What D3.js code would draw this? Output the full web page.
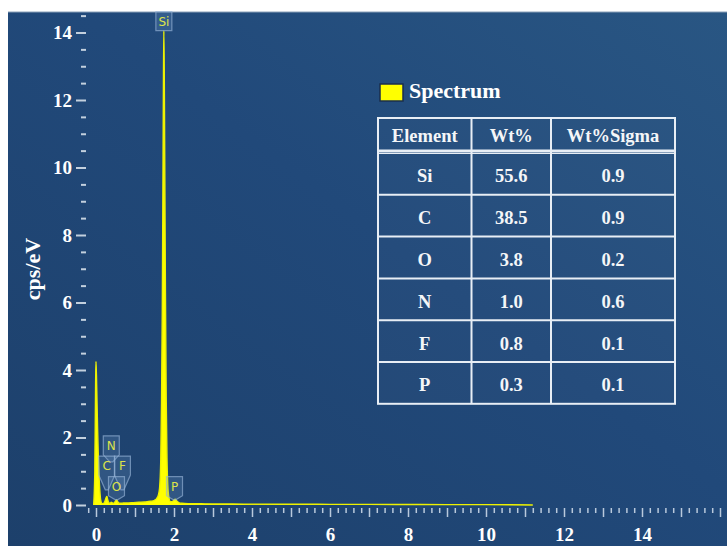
<!DOCTYPE html>
<html><head><meta charset="utf-8">
<script src="https://cdn.jsdelivr.net/npm/d3@7"></script>
<style>html,body{margin:0;padding:0;background:#fff;overflow:hidden}</style>
</head><body><svg id="c" width="727" height="546"></svg>
<script>
// ---- data ----
const energyKeV = [-0.06,-0.03,-0.01,0.00,0.02,0.04,0.06,0.08,0.10,0.12,0.15,0.19,0.23,0.26,0.28,0.30,0.33,0.36,0.39,0.42,0.46,0.50,0.53,0.56,0.60,0.65,0.70,0.80,0.95,1.10,1.25,1.40,1.50,1.56,1.60,1.63,1.66,1.68,1.70,1.72,1.73,1.74,1.75,1.76,1.78,1.80,1.82,1.84,1.87,1.91,1.96,2.00,2.03,2.07,2.12,2.20,2.40,2.70,3.00,3.50,4.00,5.00,6.00,7.00,8.00,9.00,10.00,10.60,11.20];
const cpsPerEV = [0,1.0,3.6,4.25,3.4,2.3,1.4,0.8,0.4,0.15,0.05,0.04,0.12,0.22,0.25,0.16,0.07,0.05,0.08,0.06,0.05,0.12,0.15,0.09,0.05,0.05,0.06,0.06,0.07,0.08,0.09,0.11,0.14,0.2,0.3,0.5,1.3,3.0,5.8,10.4,12.7,14.05,12.9,10.8,6.4,3.2,1.4,0.6,0.22,0.1,0.1,0.15,0.17,0.12,0.07,0.05,0.04,0.035,0.03,0.03,0.025,0.022,0.02,0.018,0.015,0.012,0.01,0.006,0];

const tagElements = ["Si","N","C","F","O","P"];
const tagEnergies = [1.740, 0.392, 0.277, 0.677, 0.525, 2.013];
const tagTops     = [14.62, 2.05, 1.45, 1.45, 0.84, 0.84];
const tagTips     = [14.05, 1.28, 0.45, 0.45, 0.16, 0.16];

const xTickLabels = [0,2,4,6,8,10,12,14];
const yTickLabels = [0,2,4,6,8,10,12,14];

const legendLabel = "Spectrum";
const tableHeaders = ["Element","Wt%","Wt%Sigma"];
const tableElements = ["Si","C","O","N","F","P"];
const tableWt = ["55.6","38.5","3.8","1.0","0.8","0.3"];
const tableSigma = ["0.9","0.9","0.2","0.6","0.1","0.1"];
const yAxisTitle = "cps/eV";

// ---- drawing ----
const svg = d3.select("#c");
const serif = "'Liberation Serif','Times New Roman',serif";

const defs = svg.append("defs");
const grad = defs.append("linearGradient").attr("id","bg").attr("x1","0").attr("y1","1").attr("x2","1").attr("y2","0");
grad.append("stop").attr("offset","0").attr("stop-color","#1d406b");
grad.append("stop").attr("offset","0.55").attr("stop-color","#21497a");
grad.append("stop").attr("offset","1").attr("stop-color","#295683");

svg.append("rect").attr("width",727).attr("height",546).attr("fill","#ffffff");
svg.append("rect").attr("x",8).attr("y",12).attr("width",719).attr("height",534).attr("fill","url(#bg)");
svg.append("line").attr("x1",8).attr("x2",727).attr("y1",12).attr("y2",12).attr("stroke","#8aa0b8").attr("stroke-width",1);

const x = d3.scaleLinear().domain([0,16]).range([96,720]);
const y = d3.scaleLinear().domain([0,14]).range([505,32.5]);

// y axis
const yMajor = d3.axisLeft(y).tickValues(yTickLabels).tickSize(10).tickPadding(4).tickFormat(d3.format("d"));
const yMinorVals = d3.range(0,30).map(i=>i*0.5).filter(v=>v%2!==0);
const yMinor = d3.axisLeft(y).tickValues(yMinorVals).tickSize(5).tickFormat("");
const gy1 = svg.append("g").attr("transform","translate(86,0)").call(yMajor);
const gy2 = svg.append("g").attr("transform","translate(86,0)").call(yMinor);
[gy1,gy2].forEach(g=>{
  g.select(".domain").remove();
  g.selectAll(".tick line").attr("stroke","#c3d0de").attr("stroke-width",2);
});
gy1.selectAll(".tick text").attr("fill","#ffffff").style("font-family",serif).style("font-weight","bold").style("font-size","19px");

// x axis
const xAllVals = d3.range(-1,81).map(i=>i/5);
const xMinorVals = xAllVals.filter(v=>Math.abs(v-Math.round(v))>1e-6);
const xMajorVals = xAllVals.filter(v=>Math.abs(v-Math.round(v))<1e-6);
const xMinor = d3.axisBottom(x).tickValues(xMinorVals).tickSize(5).tickFormat("");
const xMajor = d3.axisBottom(x).tickValues(xMajorVals).tickSize(9).tickPadding(11)
  .tickFormat(d=> xTickLabels.includes(Math.round(d)) ? String(Math.round(d)) : "");
const gx1 = svg.append("g").attr("transform","translate(0,508)").call(xMinor);
const gx2 = svg.append("g").attr("transform","translate(0,508)").call(xMajor);
[gx1,gx2].forEach(g=>{
  g.select(".domain").remove();
  g.selectAll(".tick line").attr("stroke","#b9c9dc").attr("stroke-width",1.5);
});
gx2.selectAll(".tick text").attr("fill","#ffffff").style("font-family",serif).style("font-weight","bold").style("font-size","19px");

// y title
svg.append("text").attr("transform","translate(40,269) rotate(-90)").attr("text-anchor","middle")
  .attr("fill","#ffffff").style("font-family",serif).style("font-weight","bold").style("font-size","22px").text(yAxisTitle);

// spectrum
const pts = energyKeV.map((e,i)=>[e,cpsPerEV[i]]);
const area = d3.area().x(d=>x(d[0])).y0(y(0)).y1(d=>y(d[1])).curve(d3.curveMonotoneX);
const line = d3.line().x(d=>x(d[0])).y(d=>y(d[1])).curve(d3.curveMonotoneX);
svg.append("path").datum(pts).attr("d",area).attr("fill","#ffff00");
svg.append("path").datum(pts).attr("d",line).attr("fill","none").attr("stroke","#eef200").attr("stroke-width",1.4);

// tags
const tagW = 16, tagH = 19;
tagElements.forEach((el,i)=>{
  const cx = x(tagEnergies[i]);
  const T = y(tagTops[i]);
  const B = T + tagH;
  const tip = y(tagTips[i]);
  const L = cx - tagW/2, R = cx + tagW/2;
  let p = `M${L},${T}H${R}V${B}`;
  if (tip > B + 1) p += `L${cx+1.5},${tip}L${cx-1.5},${tip}L${L},${B}Z`;
  else p += `H${L}Z`;
  svg.append("path").attr("d",p).attr("fill","rgba(120,160,205,0.22)").attr("stroke","rgba(150,180,215,0.65)").attr("stroke-width",1.2);
  svg.append("text").attr("x",cx).attr("y",T+tagH/2+4.5).attr("text-anchor","middle")
    .attr("fill","#dde34a").style("font-family","'DejaVu Sans',sans-serif").style("font-size","12px").text(el);
});

// legend
svg.append("rect").attr("x",380).attr("y",84).attr("width",23).attr("height",17).attr("fill","#ffff00").attr("stroke","#1a2e4e").attr("stroke-width",1.5);
svg.append("text").attr("x",409).attr("y",98).attr("fill","#ffffff").style("font-family",serif).style("font-weight","bold").style("font-size","22px").text(legendLabel);

// table
const colX = [378, 471.5, 551, 675];
const headTop = 118, headBot = 151;
const rowH = 41.8;
const rowsTop = 153;
const tblBot = rowsTop + rowH*tableElements.length;
const tcol = "#e8eef5";
const tg = svg.append("g");
tg.append("rect").attr("x",colX[0]).attr("y",headTop).attr("width",colX[3]-colX[0]).attr("height",tblBot-headTop)
  .attr("fill","rgba(255,255,255,0.02)").attr("stroke",tcol).attr("stroke-width",2);
colX.slice(1,3).forEach(cx=>tg.append("line").attr("x1",cx).attr("x2",cx).attr("y1",headTop).attr("y2",tblBot).attr("stroke",tcol).attr("stroke-width",2));
tg.append("rect").attr("x",colX[0]).attr("y",headBot-1.5).attr("width",colX[3]-colX[0]).attr("height",3).attr("fill",tcol);
tg.append("line").attr("x1",colX[0]).attr("x2",colX[3]).attr("y1",rowsTop+0.5).attr("y2",rowsTop+0.5).attr("stroke",tcol).attr("stroke-width",1.2);
d3.range(1,tableElements.length).forEach(i=>tg.append("line").attr("x1",colX[0]).attr("x2",colX[3])
  .attr("y1",rowsTop+rowH*i).attr("y2",rowsTop+rowH*i).attr("stroke",tcol).attr("stroke-width",2));
const cellText = (tx,ty,s)=>tg.append("text").attr("x",tx).attr("y",ty).attr("text-anchor","middle")
  .attr("fill","#f4f6f8").style("font-family",serif).style("font-weight","bold").style("font-size","18.5px").text(s);
const colC = [0,1,2].map(i=>(colX[i]+colX[i+1])/2);
tableHeaders.forEach((h,i)=>cellText(colC[i], 142, h));
tableElements.forEach((el,r)=>{
  const by = rowsTop + rowH*r + rowH/2 + 8.5;
  cellText(colC[0], by, el);
  cellText(colC[1], by, tableWt[r]);
  cellText(colC[2], by, tableSigma[r]);
});
</script>
</body></html>
